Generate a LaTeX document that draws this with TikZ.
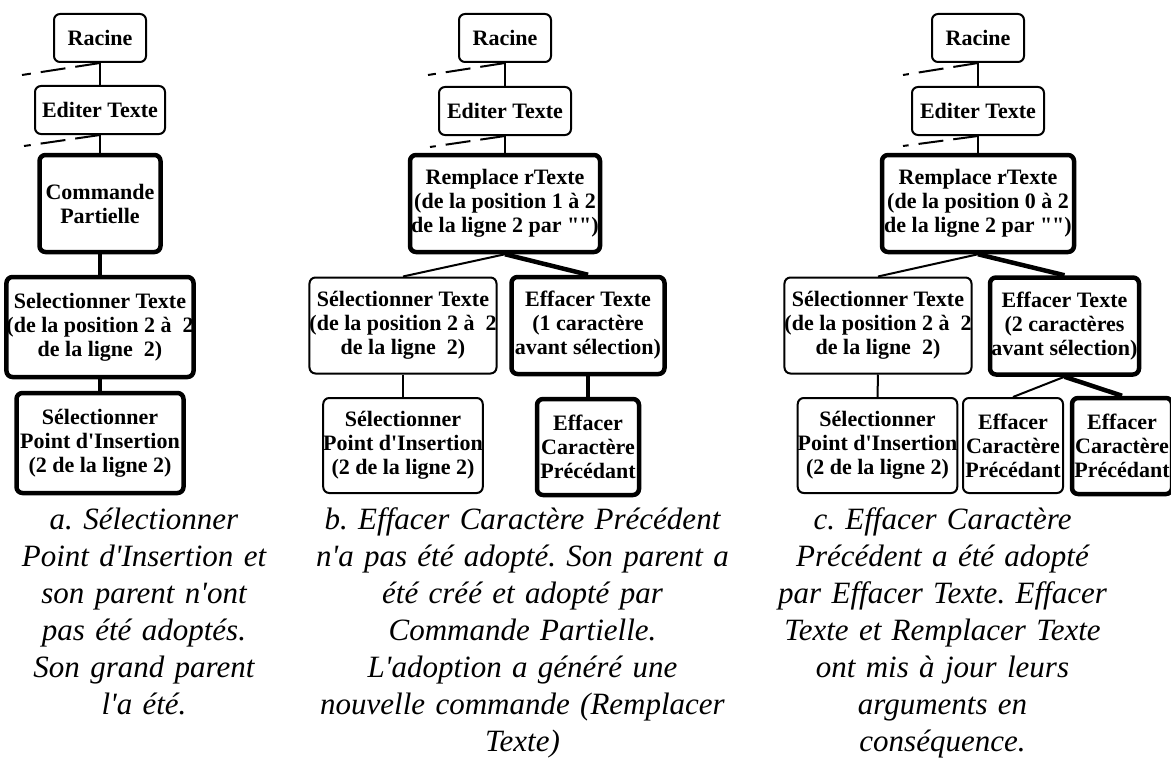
\documentclass[tikz,border=0pt]{standalone}
\usepackage{fontspec}
\setmainfont{Liberation Serif}
\newfontfamily\boxfont{Liberation Serif}[WordSpace=0.6]
\newfontfamily\capfont{Liberation Serif}
\begin{document}
\frenchspacing
\begin{tikzpicture}[x=1pt,y=-1pt]
\tikzset{
  cmd/.style={draw, line width=2pt, rounded corners=6pt, inner sep=0pt, align=center,
    font=\boxfont\bfseries\fontsize{22}{24}\selectfont},
  adopt/.style={cmd, line width=4.5pt},
  lnk/.style={line width=2pt},
  lnkthick/.style={line width=4.5pt},
  prevlnk/.style={line width=2pt, dash pattern=on 25pt off 10pt},
  captxt/.style={inner sep=0pt, text width=420pt, align=center, anchor=base,
    font=\capfont\itshape\fontsize{31}{37}\selectfont\frenchspacing}
}
\useasboundingbox (0,0) rectangle (1171,776);

% ---------- column a ----------
\node[cmd, minimum width=92pt, minimum height=48pt] (raA) at (100,38) {Racine};
\node[cmd, minimum width=130pt, minimum height=48pt] (etA) at (100,110) {Editer Texte};
\node[adopt, minimum width=121pt, minimum height=97pt] (cpA) at (100,203.5) {Commande\\Partielle};
\node[adopt, minimum width=182pt, minimum height=100pt] (stA) at (100,327) {Selectionner Texte\\(de la position 2 à~~2\\de la ligne~~2)};
\node[adopt, minimum width=167pt, minimum height=100pt] (spA) at (100,443) {Sélectionner\\Point d'Insertion\\(2 de la ligne 2)};
\coordinate (dA1) at (22,75);
\coordinate (dA2) at (24,146);
\draw[lnk] (raA.south) -- (etA.north);
\draw[lnk] (etA.south) -- (cpA.north);
\draw[lnkthick] (cpA.south) -- (stA.north);
\draw[lnkthick] (stA.south) -- (spA.north);
\draw[prevlnk] (raA.south) -- (dA1);
\draw[prevlnk] (etA.south) -- (dA2);
\node[captxt] (capA) at (144,529) {a. Sélectionner\\Point d'Insertion et\\son parent n'ont\\pas été adoptés.\\Son grand parent\\l'a été.};

% ---------- column b ----------
\node[cmd, minimum width=92pt, minimum height=48pt] (raB) at (505,38) {Racine};
\node[cmd, minimum width=132pt, minimum height=48pt] (etB) at (505,111) {Editer Texte};
\node[adopt, minimum width=190pt, minimum height=97pt] (rtB) at (505,203.5) {Remplace rTexte\\(de la position 1 à 2\\de la ligne 2 par "")};
\node[cmd, minimum width=180pt, minimum height=96pt] (stB) at (403,325.5) {Sélectionner Texte\\(de la position 2 à~~2\\de la ligne~~2)};
\node[adopt, minimum width=153pt, minimum height=97pt] (efB) at (588,325.5) {Effacer Texte\\(1 caractère\\avant sélection)};
\node[cmd, minimum width=157pt, minimum height=95pt] (spB) at (403,445.5) {Sélectionner\\Point d'Insertion\\(2 de la ligne 2)};
\node[adopt, minimum width=102pt, minimum height=96pt] (ecB) at (588,447) {Effacer\\Caractère\\Précédant};
\coordinate (dB1) at (428,75);
\coordinate (dB2) at (430,147);
\draw[lnk] (raB.south) -- (etB.north);
\draw[lnk] (etB.south) -- (rtB.north);
\draw[lnk] (rtB.south) -- (stB.north);
\draw[lnkthick] (rtB.south) -- (efB.north);
\draw[lnk] (stB.south) -- (spB.north);
\draw[lnkthick] (efB.south) -- (ecB.north);
\draw[prevlnk] (raB.south) -- (dB1);
\draw[prevlnk] (etB.south) -- (dB2);
\node[captxt] (capB) at (522.5,529) {b. Effacer Caractère Précédent\\n'a pas été adopté. Son parent a\\été créé et adopté par\\Commande Partielle.\\L'adoption a généré une\\nouvelle commande (Remplacer\\Texte)};

% ---------- column c ----------
\node[cmd, minimum width=92pt, minimum height=48pt] (raC) at (978,38) {Racine};
\node[cmd, minimum width=132pt, minimum height=48pt] (etC) at (978,111) {Editer Texte};
\node[adopt, minimum width=192pt, minimum height=97pt] (rtC) at (978,203.5) {Remplace rTexte\\(de la position 0 à 2\\de la ligne 2 par "")};
\node[cmd, minimum width=180pt, minimum height=96pt] (stC) at (878,325.5) {Sélectionner Texte\\(de la position 2 à~~2\\de la ligne~~2)};
\node[adopt, minimum width=149pt, minimum height=97pt] (efC) at (1064.5,326) {Effacer Texte\\(2 caractères\\avant sélection)};
\node[cmd, minimum width=157pt, minimum height=95pt] (spC) at (877.5,445.5) {Sélectionner\\Point d'Insertion\\(2 de la ligne 2)};
\node[cmd, minimum width=100pt, minimum height=95pt] (ec1C) at (1013,445.5) {Effacer\\Caractère\\Précédant};
\node[adopt, minimum width=100pt, minimum height=96pt] (ec2C) at (1122,446) {Effacer\\Caractère\\Précédant};
\coordinate (dC1) at (903,75);
\coordinate (dC2) at (903,146);
\draw[lnk] (raC.south) -- (etC.north);
\draw[lnk] (etC.south) -- (rtC.north);
\draw[lnk] (rtC.south) -- (stC.north);
\draw[lnkthick] (rtC.south) -- (efC.north);
\draw[lnk] (stC.south) -- (spC.north);
\draw[lnk] (efC.south) -- (ec1C.north);
\draw[lnkthick] (efC.south) -- (ec2C.north);
\draw[prevlnk] (raC.south) -- (dC1);
\draw[prevlnk] (etC.south) -- (dC2);
\node[captxt] (capC) at (942.5,529) {c. Effacer Caractère\\Précédent a été adopté\\par Effacer Texte. Effacer\\Texte et Remplacer Texte\\ont mis à jour leurs\\arguments en\\conséquence.};
\end{tikzpicture}
\end{document}
